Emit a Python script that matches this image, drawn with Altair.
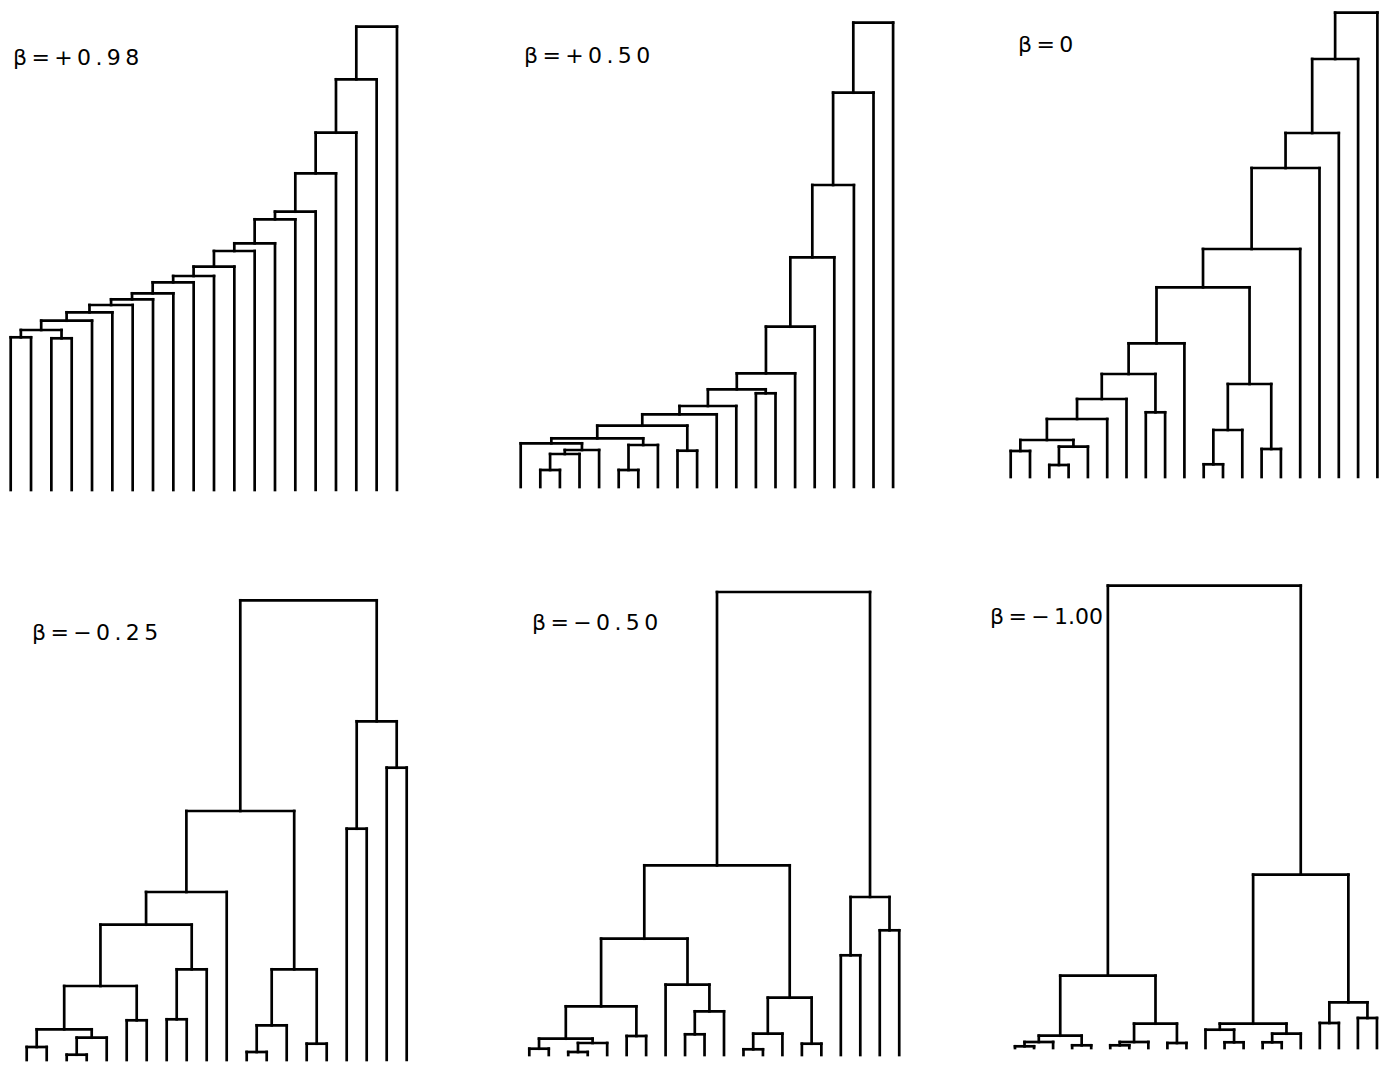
import altair as alt
import pandas as pd

# ---------------- data: merges of each dendrogram ----------------
# leaves "L1".."L20" (in drawing order), merges "M1".."M19" (in list order)
# height = merge level above the leaf baseline

P1_LABEL = "β\u2009=\u2009+\u20090\u2009.\u20099\u20098"
P1_LEFT = ["L1", "L3", "M1", "M3", "M4", "M5", "M6", "M7", "M8", "M9",
           "M10", "M11", "M12", "M13", "M14", "M15", "M16", "M17", "M18"]
P1_RIGHT = ["L2", "L4", "M2", "L5", "L6", "L7", "L8", "L9", "L10", "L11",
            "L12", "L13", "L14", "L15", "L16", "L17", "L18", "L19", "L20"]
P1_HEIGHT = [152.7, 151.7, 160, 169.3, 177.7, 185, 190.7, 196.7, 207.7, 214,
             223.3, 239, 246.7, 270.7, 278.3, 316.7, 357.3, 410.7, 463.3]

P2_LABEL = "β\u2009=\u2009+\u20090\u2009.\u20095\u20090"
P2_LEFT = ["L2", "M1", "M2", "L1", "L6", "M5", "M4", "L9", "M7", "M9",
           "M10", "L13", "M11", "M13", "M14", "M15", "M16", "M17", "M18"]
P2_RIGHT = ["L3", "L4", "L5", "M3", "L7", "L8", "M6", "L10", "M8", "L11",
            "L12", "L14", "M12", "L15", "L16", "L17", "L18", "L19", "L20"]
P2_HEIGHT = [17, 33, 37, 43.7, 17, 42, 48.7, 36.3, 61.3, 72.7,
             81, 93.7, 97.7, 113.7, 160.3, 229.7, 302, 394.3, 464.3]

P3_LABEL = "β\u2009=\u20090"
P3_LEFT = ["L1", "L3", "M2", "M1", "M4", "M5", "L8", "M6", "M8", "L11",
           "M10", "L14", "M11", "M9", "M14", "M15", "M16", "M17", "M18"]
P3_RIGHT = ["L2", "L4", "L5", "M3", "L6", "L7", "L9", "M7", "L10", "L12",
            "L13", "L15", "M12", "M13", "L16", "L17", "L18", "L19", "L20"]
P3_HEIGHT = [26, 12, 30.3, 37, 58, 78, 64.7, 103, 133.7, 12.7,
             47, 28, 93, 189.7, 228, 309, 344, 418, 464.3]

P4_LABEL = "β\u2009=\u2009−\u20090\u2009.\u20092\u20095"
P4_LEFT = ["L1", "L3", "M2", "M1", "L6", "M4", "L8", "M7", "M6", "M9",
           "L12", "M11", "L15", "M12", "M10", "L17", "L19", "M16", "M15"]
P4_RIGHT = ["L2", "L4", "L5", "M3", "L7", "M5", "L9", "L10", "M8", "L11",
            "L13", "L14", "L16", "M13", "M14", "L18", "L20", "M17", "M18"]
P4_HEIGHT = [13, 5.3, 22.3, 30.7, 39.7, 74, 40.7, 90.7, 135.3, 168,
             8, 34.7, 16.3, 90.7, 249, 231.3, 292.3, 338.7, 459.7]

P5_LABEL = "β\u2009=\u2009−\u20090\u2009.\u20095\u20090"
P5_LEFT = ["L1", "L3", "M2", "M1", "L6", "M4", "L9", "M7", "L8", "M6",
           "L12", "M11", "L15", "M12", "M10", "L17", "L19", "M16", "M15"]
P5_RIGHT = ["L2", "L4", "L5", "M3", "L7", "M5", "L10", "L11", "M8", "M9",
            "L13", "L14", "L16", "M13", "M14", "L18", "L20", "M17", "M18"]
P5_HEIGHT = [6.3, 3, 12, 16.3, 19, 48.7, 20.7, 43.7, 70.3, 116.3,
             5.7, 21.3, 11.3, 57.3, 189.7, 99.7, 124.7, 158, 463]

P6_LABEL = "β\u2009=\u2009−\u20091.00"
P6_LEFT = ["L1", "M1", "L4", "M2", "L6", "M5", "L9", "M6", "M4", "L12",
           "L11", "L14", "M12", "M11", "L17", "L19", "M15", "M14", "M9"]
P6_RIGHT = ["L2", "L3", "L5", "M3", "L7", "L8", "L10", "M7", "M8", "L13",
            "M10", "L15", "L16", "M13", "L18", "L20", "M16", "M17", "M18"]
P6_HEIGHT = [1.7, 6, 2.7, 12.3, 2.7, 6, 5, 24.3, 72.3, 5.7,
             18.3, 5.7, 14.3, 24.3, 25, 30, 45.7, 173.3, 462.3]

# ---------------- layout parameters ----------------
PANEL_W = 440
PANEL_H = 482
INK = "black"
LINE_W = 2.7


def tree_segments(left, right, height):
    pos = {}
    rows = []

    def get(node):
        if node.startswith("L"):
            return float(node[1:]), 0.0
        return pos[node]

    for k, (a, b, h) in enumerate(zip(left, right, height), start=1):
        xa, ha = get(a)
        xb, hb = get(b)
        rows.append((xa, xb, h, h))
        rows.append((xa, xa, ha, h))
        rows.append((xb, xb, hb, h))
        pos[f"M{k}"] = ((xa + xb) / 2.0, h)
    return pd.DataFrame(rows, columns=["x", "x2", "y", "y2"])


def panel(left, right, height, label, first_px, spacing, base_off, tx, ty):
    df = tree_segments(left, right, height)
    d0 = 1 - first_px / spacing
    d1 = d0 + PANEL_W / spacing
    lo = -base_off
    xs = alt.Scale(domain=[d0, d1], nice=False, zero=False)
    ys = alt.Scale(domain=[lo, lo + PANEL_H], nice=False, zero=False)
    tree = alt.Chart(df).mark_rule(color=INK, strokeWidth=LINE_W, strokeCap="square").encode(
        x=alt.X("x:Q", scale=xs, axis=None),
        x2="x2:Q",
        y=alt.Y("y:Q", scale=ys, axis=None),
        y2="y2:Q",
    )
    text = alt.Chart(pd.DataFrame({"t": [label]})).mark_text(
        align="left", baseline="alphabetic", fontSize=22, font="DejaVu Sans", color=INK
    ).encode(x=alt.value(tx), y=alt.value(ty), text="t:N")
    return alt.layer(tree, text).properties(width=PANEL_W, height=PANEL_H)


p1 = panel(P1_LEFT, P1_RIGHT, P1_HEIGHT, P1_LABEL, 2.7, 20.33, 0, 5, 57)
p2 = panel(P2_LEFT, P2_RIGHT, P2_HEIGHT, P2_LABEL, 46.7, 19.6, 3, 50, 55)
p3 = panel(P3_LEFT, P3_RIGHT, P3_HEIGHT, P3_LABEL, 70.7, 19.3, 13, 78, 44)
p4 = panel(P4_LEFT, P4_RIGHT, P4_HEIGHT, P4_LABEL, 18.7, 20.0, 0, 24, 62)
p5 = panel(P5_LEFT, P5_RIGHT, P5_HEIGHT, P5_LABEL, 55.3, 19.47, 5, 58, 52)
p6 = panel(P6_LEFT, P6_RIGHT, P6_HEIGHT, P6_LABEL, 75.0, 19.05, 12, 50, 46)

chart = alt.concat(
    p1, p2, p3, p4, p5, p6,
    columns=3,
    spacing={"row": 88, "column": 26},
    bounds="flush",
).properties(padding=0, background="white").configure_view(stroke=None)

chart.save("out.html", embed_options={"renderer": "svg", "actions": False})
